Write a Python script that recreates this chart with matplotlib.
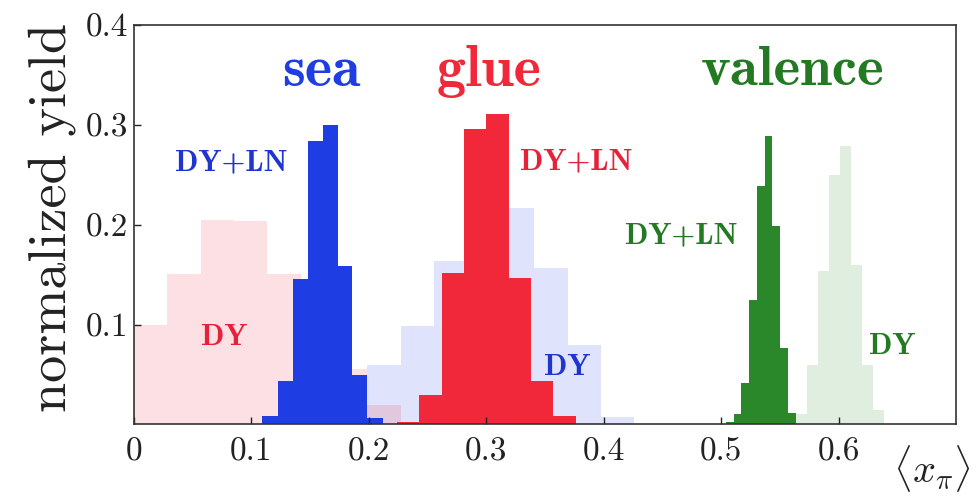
import numpy as np
import matplotlib
matplotlib.use('Agg')
import matplotlib.pyplot as plt

plt.rcParams['font.family'] = ['cmr10', 'DejaVu Serif']
plt.rcParams['mathtext.fontset'] = 'cm'
plt.rcParams['axes.formatter.use_mathtext'] = True

# 히스토그램 값
# sea
sea_dy_edges = [0.0, 0.0284, 0.0568, 0.0852, 0.1136, 0.142, 0.1704, 0.1988, 0.2272]
sea_dy = [0.100, 0.151, 0.205, 0.204, 0.151, 0.100, 0.056, 0.020]
sea_ln_edges = [0.1094, 0.1222, 0.1355, 0.1482, 0.161, 0.1737, 0.186, 0.198, 0.212]
sea_ln = [0.0085, 0.0436, 0.1458, 0.2834, 0.300, 0.1588, 0.0496, 0.0062]

# glue
glue_dy_edges = [0.1988, 0.2272, 0.2556, 0.284, 0.3124, 0.3408, 0.3692, 0.3976, 0.426]
glue_dy = [0.0596, 0.0987, 0.1638, 0.200, 0.2166, 0.1565, 0.0797, 0.0078]
glue_ln_edges = [0.224, 0.243, 0.262, 0.281, 0.300, 0.319, 0.338, 0.357, 0.376]
glue_ln = [0.003, 0.0296, 0.152, 0.2958, 0.3108, 0.1465, 0.0436, 0.0085]

# valence
val_dy_edges = [0.564, 0.5733, 0.5826, 0.5919, 0.6012, 0.6105, 0.6198, 0.6291, 0.6384]
val_dy = [0.011, 0.060, 0.1538, 0.250, 0.2784, 0.1598, 0.0596, 0.0145]
val_ln_edges = [0.504, 0.5106, 0.5172, 0.5238, 0.5304, 0.537, 0.5436, 0.5502, 0.5568, 0.5634]
val_ln = [0.003, 0.0105, 0.0413, 0.1248, 0.239, 0.289, 0.1989, 0.0763, 0.0118]

xticks = [0, 0.1, 0.2, 0.3, 0.4, 0.5, 0.6]
xtick_labels = ['0', '0.1', '0.2', '0.3', '0.4', '0.5', '0.6']
yticks = [0.1, 0.2, 0.3, 0.4]
ytick_labels = ['0.1', '0.2', '0.3', '0.4']

blue = '#1e3ee4'
red = '#f0283a'
green = '#2a882a'

fig = plt.figure(figsize=(9.76, 4.99), dpi=100)
ax = fig.add_axes([0.1373, 0.1493, 0.8422, 0.8006])

# 옅은 DY 히스토그램 먼저
ax.stairs(glue_dy, glue_dy_edges, fill=True, color=blue, alpha=0.14, lw=0)
ax.stairs(sea_dy, sea_dy_edges, fill=True, color=red, alpha=0.14, lw=0)
ax.stairs(val_dy, val_dy_edges, fill=True, color=green, alpha=0.14, lw=0)

# DY+LN 진한 히스토그램
ax.stairs(sea_ln, sea_ln_edges, fill=True, color=blue, lw=0)
ax.stairs(glue_ln, glue_ln_edges, fill=True, color=red, lw=0)
ax.stairs(val_ln, val_ln_edges, fill=True, color=green, lw=0)

ax.set_xlim(0, 0.7)
ax.set_ylim(0, 0.4)
ax.set_xticks(xticks)
ax.set_xticklabels(xtick_labels)
ax.set_yticks(yticks)
ax.set_yticklabels(ytick_labels)
ax.tick_params(direction='in', length=5, width=1, labelsize=24, colors='#222222')
ax.tick_params(axis='x', pad=9)
ax.tick_params(axis='y', pad=4)
for s in ax.spines.values():
    s.set_color('#333333')
    s.set_linewidth(1.2)

bold = dict(family='cmb10', ha='center', va='baseline')
ax.text(0.1596, 0.339, 'sea', color=blue, fontsize=42, **bold)
ax.text(0.302, 0.339, 'glue', color=red, fontsize=42, **bold)
ax.text(0.561, 0.340, 'valence', color='#237a23', fontsize=41, **bold)

ax.text(0.083, 0.255, 'DY+LN', color='#2035d0', fontsize=22, **bold)
ax.text(0.0766, 0.0797, 'DY', color='#e8203a', fontsize=22, **bold)
ax.text(0.3764, 0.2557, 'DY+LN', color='#e8203a', fontsize=22, **bold)
ax.text(0.369, 0.0496, 'DY', color='#2035d0', fontsize=22, **bold)
ax.text(0.4663, 0.181, 'DY+LN', color='#237a23', fontsize=22, **bold)
ax.text(0.646, 0.0706, 'DY', color='#237a23', fontsize=22, **bold)

fig.text(0.053, 0.564, 'normalized yield', rotation=90, ha='center', va='center',
         fontsize=39, color='#222222')
fig.text(0.955, 0.062, r'$\langle x_\pi \rangle$', ha='center', va='center',
         fontsize=29, color='#222222')

fig.savefig('out.png', dpi=100)
